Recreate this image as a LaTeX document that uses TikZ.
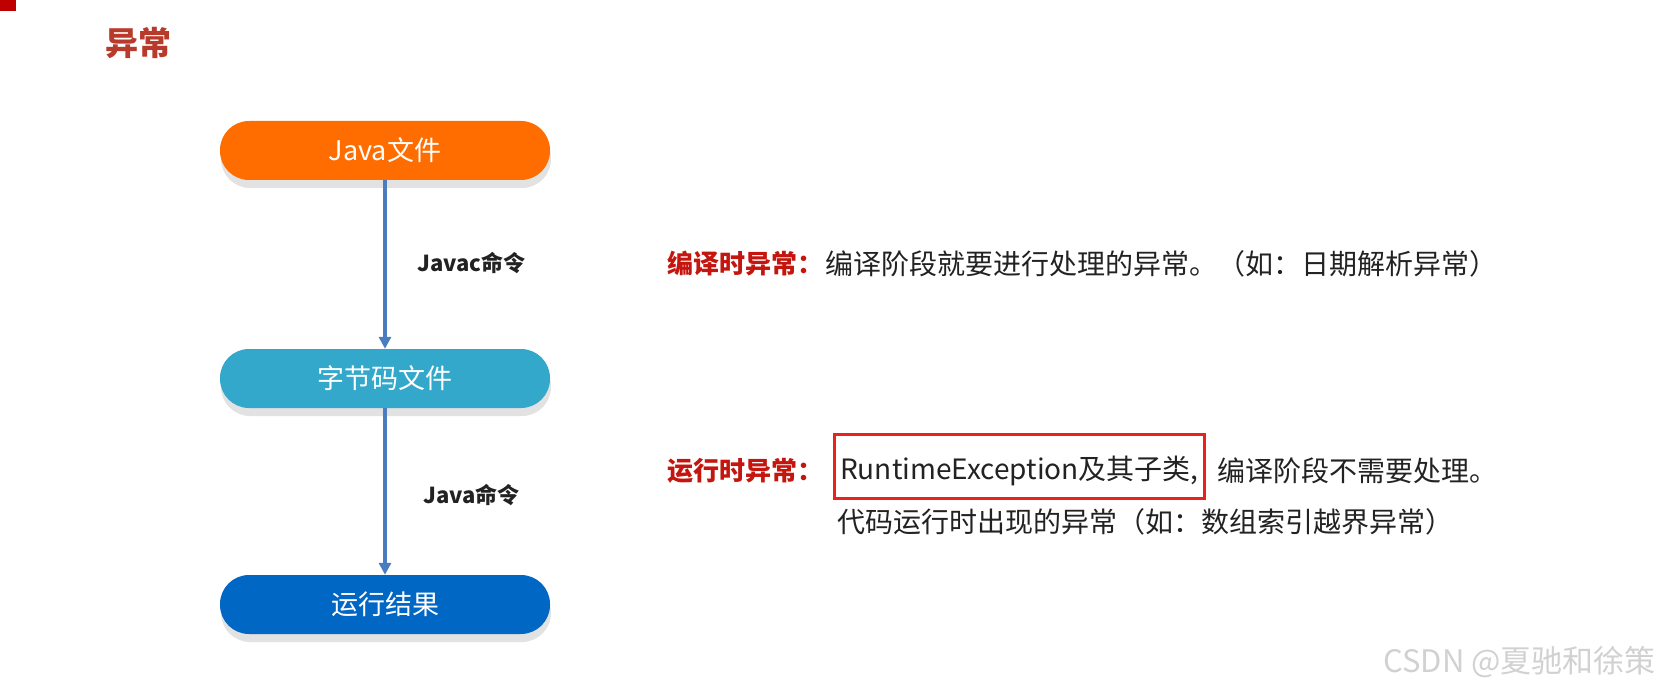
\documentclass[tikz,border=0pt]{standalone}
\usepackage{fontspec}
\setmainfont{Noto Sans CJK SC}
\usepackage{xcolor}
\usepackage{tikz}
\usetikzlibrary{arrows.meta,positioning,shadows,fit}

\definecolor{javaorange}{RGB}{255,109,0}
\definecolor{bytecodeteal}{RGB}{52,168,203}
\definecolor{resultblue}{RGB}{0,103,197}
\definecolor{flowblue}{RGB}{74,124,192}
\definecolor{shadowgray}{RGB}{226,226,226}
\definecolor{titlered}{RGB}{184,58,43}
\definecolor{labelred}{RGB}{196,22,14}
\definecolor{boxred}{RGB}{232,35,26}
\definecolor{bodytext}{RGB}{34,34,34}

\begin{document}
\begin{tikzpicture}[
        x=1pt, y=-1pt,
        stage/.style={rectangle, rounded corners=29pt, minimum width=330pt, minimum height=59pt, inner sep=0pt, text=white, font=\fontsize{27}{30}\selectfont, drop shadow={shadow xshift=1pt, shadow yshift=-8pt, fill=shadowgray, opacity=1}},
        arrow/.style={draw=flowblue, line width=3.5pt, -{Triangle[length=12pt, width=12pt]}},
        cmd/.style={anchor=west, inner sep=0pt, text=bodytext, font=\bfseries\fontsize{22}{26}\selectfont},
        kind/.style={anchor=west, inner sep=0pt, text=labelred, font=\bfseries\fontsize{26}{30}\selectfont},
        desc/.style={anchor=west, inner sep=0pt, text=bodytext, font=\fontsize{28}{32}\selectfont}
    ]
    \useasboundingbox (0,0) rectangle (1661,692);
    \fill [red!75!black] (0,0) rectangle (16,11);
    \node [anchor=west, inner sep=0pt, text=titlered, font=\bfseries\fontsize{33}{36}\selectfont] (title) at (105,43) {异常};

    \node [stage, fill=javaorange] (java) at (385,150.5) {Java文件};
    \node [stage, fill=bytecodeteal] (bytecode) at (385,378.5) {字节码文件};
    \node [stage, fill=resultblue] (result) at (385,604.5) {运行结果};

    \node [cmd] (javac) at (417,263) {Javac命令};
    \node [cmd] (javarun) at (423,495) {Java命令};

    \path [arrow] (java) -- (bytecode);
    \path [arrow] (bytecode) -- (result);

    \node [kind] (checked) at (667,264) {编译时异常：};
    \node [desc, right=2pt of checked] (checkeddesc) {编译阶段就要进行处理的异常。（如：日期解析异常）};

    \node [kind] (unchecked) at (667,471) {运行时异常：};
    \node [desc] (runtime) at (840,471) {RuntimeException及其子类,};
    \node [draw=boxred, line width=3pt, fit=(runtime), inner xsep=6pt, inner ysep=0pt, minimum height=64pt, yshift=5pt] (highlight) {};
    \node [desc, right=11pt of highlight.east |- runtime.east] (uncheckeddesc) {编译阶段不需要处理。};
    \node [desc] (uncheckedmore) at (837,522) {代码运行时出现的异常（如：数组索引越界异常）};

    \node [anchor=east, inner sep=0pt, text=black!18, font=\fontsize{31}{34}\selectfont] (mark) at (1656,662) {CSDN @夏驰和徐策};
\end{tikzpicture}
\end{document}
